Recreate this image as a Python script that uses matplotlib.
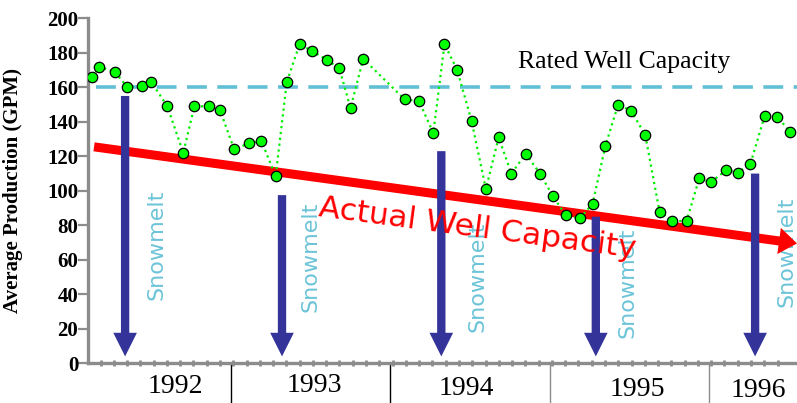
import numpy as np
import matplotlib
matplotlib.use("Agg")
import matplotlib.pyplot as plt

# monthly average production (decimal year, GPM)
dates = [1992.13, 1992.17, 1992.27, 1992.35, 1992.44, 1992.50, 1992.60, 1992.70,
         1992.77, 1992.86, 1992.93, 1993.02, 1993.11, 1993.19, 1993.28, 1993.35,
         1993.43, 1993.51, 1993.60, 1993.68, 1993.75, 1993.83, 1994.09, 1994.18,
         1994.27, 1994.34, 1994.42, 1994.51, 1994.60, 1994.68, 1994.76, 1994.85,
         1994.94, 1995.02, 1995.10, 1995.19, 1995.27, 1995.35, 1995.43, 1995.51,
         1995.60, 1995.69, 1995.77, 1995.86, 1995.94, 1996.01, 1996.11, 1996.18,
         1996.26, 1996.35, 1996.43, 1996.51]
production = [166, 172, 169, 160, 161, 163, 149, 122,
              149, 149, 147, 124, 127.5, 129, 108.5, 163,
              185, 181, 176, 171, 148, 176.5, 153, 152,
              133.5, 185, 170, 140.5, 101, 131, 110, 121.5,
              110, 97, 86, 84, 92.5, 126, 150, 146.5,
              132.5, 88, 82.5, 82.5, 107.5, 105, 112, 110.5,
              115.5, 143.5, 143, 134]

rated_capacity = 160
trend_start = (1992.14, 125.5)
trend_end = (1996.553, 69.5)

snowmelt_dates = [1992.335, 1993.32, 1994.32, 1995.29, 1996.29]
snowmelt_top = [155, 97.5, 123, 85, 110]
snowmelt_bottom = 4

years = ["1992", "1993", "1994", "1995", "1996"]
year_breaks = [1993, 1994, 1995, 1996]

fig = plt.figure(figsize=(7.97, 4.03), dpi=100)
ax = fig.add_axes([0.1104, 0.0985, 0.8896, 0.856])
ax.set_xlim(1992.102, 1996.553)
ax.set_ylim(0, 200)

grey = "#8c8c8c"
for s in ["top", "right"]:
    ax.spines[s].set_visible(False)
for s in ["left", "bottom"]:
    ax.spines[s].set_color(grey)
    ax.spines[s].set_linewidth(2.4)

ax.set_yticks(np.arange(0, 201, 20))
ax.tick_params(axis="y", length=7, width=1.6, color=grey, pad=0)
for lab in ax.get_yticklabels():
    lab.set_fontfamily("Liberation Serif")
    lab.set_fontweight("bold")
    lab.set_fontsize(15)

ax.set_xticks([])
ax.set_xticks(1992 + (np.arange(2, 54) + 0.17) / 12, minor=True)
ax.tick_params(axis="x", which="minor", direction="inout", length=5,
               width=2, color=grey, labelbottom=False)

ax.set_ylabel("Average Production (GPM)", family="Liberation Serif",
              fontweight="bold", fontsize=15)
ax.yaxis.set_label_coords(-0.092, 0.5)

# rated capacity
ax.axhline(rated_capacity, xmin=0.012, xmax=1, color="#62c0d6", lw=2.6,
           dashes=(5.5, 2.9), zorder=2)
ax.text(1994.80, 171, "Rated Well Capacity", family="Liberation Serif",
        fontsize=18.5, ha="left", va="baseline")

# actual capacity trend
ax.annotate("", xy=trend_end, xytext=trend_start,
            arrowprops=dict(arrowstyle="simple,head_width=19,head_length=13,tail_width=6.5",
                            mutation_scale=1, color="#ff0000", lw=0,
                            shrinkA=0, shrinkB=0),
            annotation_clip=False, zorder=3)

# snowmelt arrows
for x, top in zip(snowmelt_dates, snowmelt_top):
    ax.annotate("", xy=(x, snowmelt_bottom), xytext=(x, top),
                arrowprops=dict(arrowstyle="simple,head_width=17,head_length=17,tail_width=6",
                                mutation_scale=1, color="#333399", lw=0,
                                shrinkA=0, shrinkB=0),
                zorder=4)

snow_x = [1992.535, 1993.50, 1994.55, 1995.49, 1996.49]
snow_y = [68.5, 61.5, 50, 46.5, 64.5]
for x, y in zip(snow_x, snow_y):
    ax.text(x, y, "Snowmelt", rotation=90, color="#6cc4d8", fontsize=16,
            ha="center", va="center", zorder=2)

ax.plot(dates, production, color="#00ee00", ls=":", lw=1.6,
        marker="o", ms=7.5, mfc="#00ff00", mec="black", mew=0.9, zorder=5)

ax.text(1994.54, 73, "Actual Well Capacity", color="#ff0000", fontsize=22.5,
        rotation=-7.5, rotation_mode="anchor", ha="center", va="baseline",
        zorder=6)

# year labels below the axis
trans = ax.get_xaxis_transform()
year_x = [1992.65, 1993.52, 1994.48, 1995.55, 1996.31]
year_y = [-0.086, -0.083, -0.092, -0.096, -0.097]
for x, y, lab in zip(year_x, year_y, years):
    ax.text(x, y, lab, transform=trans, family="Liberation Serif",
            fontsize=20, ha="center", va="baseline")
for x, c in zip(year_breaks, ["black", "black", grey, grey]):
    ax.plot([x, x], [0, -0.12], transform=trans, color=c, lw=1,
            clip_on=False)

fig.savefig("out.png", dpi=100)
